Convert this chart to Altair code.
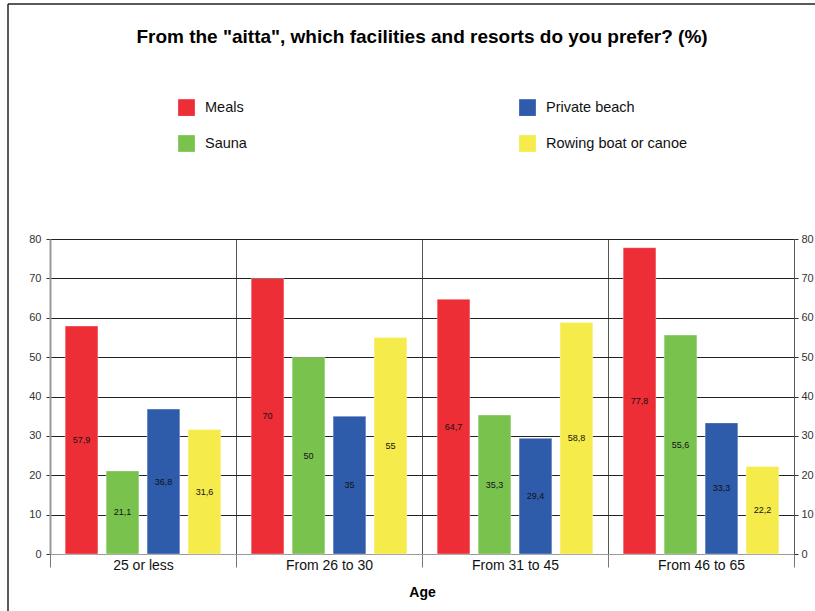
import altair as alt
import pandas as pd

# Survey answers (%) by age group
groups = ["25 or less", "From 26 to 30", "From 31 to 45", "From 46 to 65"]
series = ["Meals", "Sauna", "Private beach", "Rowing boat or canoe"]
meals = [57.9, 70, 64.7, 77.8]
sauna = [21.1, 50, 35.3, 55.6]
beach = [36.8, 35, 29.4, 33.3]
rowing = [31.6, 55, 58.8, 22.2]
colors = ["#EE2E36", "#7AC24E", "#2E5BAA", "#F5EB4A"]
y_ticks = [0, 10, 20, 30, 40, 50, 60, 70, 80]

rows = []
for name, vals in zip(series, [meals, sauna, beach, rowing]):
    for g, v in zip(groups, vals):
        rows.append({
            "group": g,
            "series": name,
            "value": v,
            "mid": v / 2,
            "label": f"{v:g}".replace(".", ","),
        })
df = pd.DataFrame(rows)

FONT = "Liberation Sans"
ydom = alt.Scale(domain=[0, 80], nice=False, zero=True)

x_enc = alt.X(
    "group:N",
    sort=groups,
    scale=alt.Scale(paddingInner=0, paddingOuter=0),
    axis=alt.Axis(
        title="Age", titleFontSize=14, titleFontWeight="bold", titleFont=FONT,
        titleColor="#000", titlePadding=13,
        labelFontSize=14, labelFont=FONT, labelColor="#111", labelAngle=0,
        labelPadding=-9,
        tickBand="extent", tickSize=13, tickColor="#777",
        grid=True, gridColor="#555", gridWidth=1,
        domainColor="#999", domainWidth=1,
    ),
)
xoff_enc = alt.XOffset(
    "series:N",
    sort=series,
    scale=alt.Scale(paddingInner=0.2, paddingOuter=0.37),
)
color_enc = alt.Color(
    "series:N",
    sort=series,
    scale=alt.Scale(domain=series, range=colors),
    legend=alt.Legend(
        title=None, orient="none", legendX=128, legendY=-140,
        columns=2, columnPadding=272, rowPadding=19,
        symbolType="square", symbolSize=280, symbolStrokeWidth=0,
        labelFontSize=14.5, labelFont=FONT, labelColor="#111", labelOffset=10,
        labelLimit=300, direction="vertical",
    ),
)

bars = alt.Chart(df).mark_bar(strokeWidth=1, strokeOpacity=0.35, stroke="#ffffff").encode(
    x=x_enc,
    xOffset=xoff_enc,
    y=alt.Y(
        "value:Q", scale=ydom,
        axis=alt.Axis(
            title=None, values=y_ticks, grid=True, gridColor="#222",
            domainColor="#999", domainWidth=2, tickColor="#333", tickSize=4,
            labelFontSize=11, labelFont=FONT, labelColor="#333", labelPadding=5,
        ),
    ),
    color=color_enc,
)

labels = alt.Chart(df).mark_text(fontSize=9, font=FONT, color="#111").encode(
    x=alt.X("group:N", sort=groups),
    xOffset=alt.XOffset("series:N", sort=series),
    y=alt.Y(
        "mid:Q", scale=ydom,
        axis=alt.Axis(
            title=None, orient="right", values=y_ticks, grid=False,
            domainColor="#555", domainWidth=1, tickColor="#333", tickSize=4,
            labelFontSize=11, labelFont=FONT, labelColor="#333", labelPadding=3,
        ),
    ),
    text="label:N",
)

frame_df = pd.DataFrame({"k": [0]})
frame_left = alt.Chart(frame_df).mark_rule(color="#222", strokeWidth=1.5).encode(
    x=alt.value(-42), y=alt.value(-235), y2=alt.value(372)
)
frame_top = alt.Chart(frame_df).mark_rule(color="#222", strokeWidth=1.5).encode(
    x=alt.value(-42), x2=alt.value(765), y=alt.value(-235)
)

chart = (
    alt.layer(bars, labels, frame_left, frame_top)
    .resolve_scale(y="shared")
    .resolve_axis(y="independent")
    .properties(
        width=744,
        height=315,
        autosize=alt.AutoSizeParams(type="none"),
        padding={"left": 50, "top": 239, "right": 21, "bottom": 57},
        title=alt.Title(
            'From the "aitta", which facilities and resorts do you prefer? (%)',
            fontSize=19, font=FONT, fontWeight="bold", color="#000",
            frame="group", anchor="middle", offset=-44,
        ),
        background="white",
    )
    .configure_view(stroke=None)
)

chart.save("out.html", embed_options={"renderer": "svg", "actions": False})
